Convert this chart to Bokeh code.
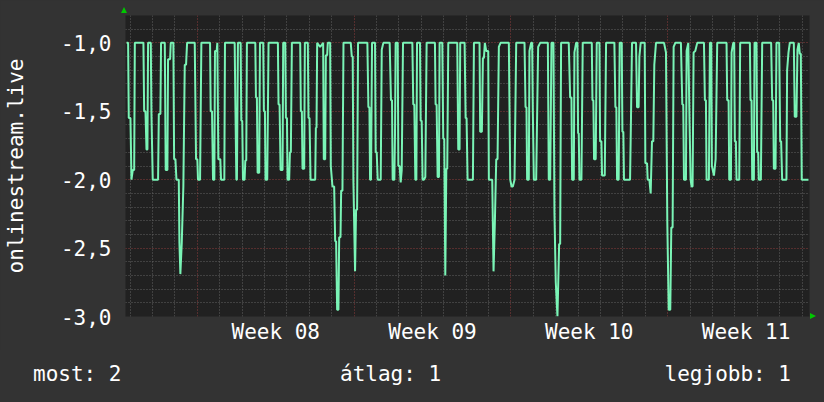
from bokeh.plotting import figure
from bokeh.layouts import column
from bokeh.models import FixedTicker, CustomJSTickFormatter, ColumnDataSource, Div
from bokeh.embed import file_html
from bokeh.resources import INLINE

# ---- data (hours from start of Week 08, value) ----
hours = [
    -75.9, -74.2, -73.5, -71.7, -70.6, -69.2, -67.7, -67.0, -57.8, -57.0, -55.6, -54.5, -53.5, -52.8,
    -49.9, -49.2, -47.8, -42.1, -41.3, -39.6, -38.9, -34.9, -33.9, -32.1, -31.4, -29.2, -28.5, -25.7,
    -24.9, -23.5, -22.4, -19.9, -19.2, -18.2, -16.7, -15.0, -13.5, -12.1, -11.0, -2.8, -1.4, 0.0,
    0.7, 2.9, 4.3, 13.6, 14.3, 15.7, 16.8, 18.2, 18.9, 20.7, 21.4, 22.5, 24.6, 25.4, 28.9, 29.6,
    40.0, 40.7, 41.8, 42.4, 43.5, 46.4, 47.1, 48.1, 48.9, 50.6, 51.4, 52.4, 53.1, 62.1, 62.8, 63.8,
    64.6, 66.3, 67.1, 70.6, 71.3, 72.4, 73.1, 74.9, 76.3, 86.3, 87.0, 88.1, 89.2, 91.3, 92.0, 94.2,
    94.9, 96.0, 96.7, 98.4, 99.2, 100.2, 101.3, 110.2, 110.9, 112.0, 112.7, 114.5, 115.2, 118.4,
    119.1, 120.2, 121.3, 126.3, 127.0, 127.7, 128.4, 131.6, 134.8, 135.5, 137.0, 137.7, 139.1, 139.8,
    142.3, 143.0, 144.8, 146.6, 147.7, 148.7, 149.8, 151.2, 152.0, 153.4, 154.1, 155.5, 156.6, 162.6,
    164.4, 165.5, 166.5, 167.2, 169.0, 170.1, 171.2, 172.2, 182.2, 183.3, 184.4, 185.1, 186.1, 187.2,
    190.4, 191.1, 192.2, 193.3, 196.5, 197.6, 199.3, 206.1, 207.5, 208.6, 209.3, 211.1, 211.8, 212.5,
    214.7, 215.4, 216.8, 217.9, 219.0, 220.4, 230.4, 231.4, 232.5, 233.6, 234.7, 235.4, 238.6, 239.3,
    240.4, 241.4, 242.9, 244.3, 245.7, 254.6, 255.3, 256.4, 257.5, 258.9, 259.6, 262.5, 263.5, 264.6,
    265.7, 266.8, 267.8, 268.9, 278.5, 279.6, 281.0, 281.7,
    286.4, 287.5, 288.5, 289.6, 295.3, 296.4, 302.4, 303.1, 304.9, 306.0, 307.1, 308.1, 309.6, 311.7,
    312.4, 316.0, 317.4, 318.8, 320.3, 321.7, 323.1, 324.9, 333.8, 335.3, 336.7, 338.1, 339.9, 341.7,
    350.6, 351.7, 352.7, 353.4, 355.2, 355.9, 357.7, 358.8, 359.5, 360.6, 363.1, 365.2, 367.4, 375.6,
    376.6, 378.1, 379.5, 381.6, 382.7, 384.1, 385.9, 387.7, 388.8, 389.8, 398.0, 399.5, 400.9, 401.6,
    403.4, 404.1, 405.9,
    407.3, 408.0, 408.7, 409.5, 411.6, 413.0, 422.7, 423.4, 424.4, 425.1, 426.9, 428.0, 430.9, 431.6,
    433.0, 433.7, 436.6, 438.0, 446.9, 448.0, 449.0, 449.8, 451.5, 452.6, 454.8, 455.5, 456.5, 457.2,
    463.7, 464.7, 465.8, 470.1, 471.2, 472.9, 473.7, 475.1, 479.4, 480.1, 481.9, 482.6, 484.4, 485.8,
    487.2, 488.6, 489.7, 491.5, 500.1, 502.2, 503.6, 505.1, 506.8, 507.9, 509.3, 510.4, 512.2, 518.2,
    519.7, 520.7, 521.5, 523.6, 524.3, 526.1, 527.5,
    528.6, 529.7, 530.7, 531.8, 533.6, 535.7, 542.9, 543.9, 545.0, 545.7, 548.2, 549.3, 550.7, 551.4,
    553.6, 555.4, 557.1, 567.1, 567.8, 569.3, 570.0, 571.8, 572.5, 574.3, 575.3, 576.0, 577.1, 577.8,
    580.7, 581.7, 592.1, 592.8, 593.9, 594.6, 596.4, 597.1, 599.2, 599.9, 601.0, 601.7, 603.9, 605.3,
    614.9, 616.0, 617.1, 617.8, 619.6, 620.6, 623.5, 624.6, 625.6, 626.7, 631.3, 632.0, 633.5, 634.9,
    639.2, 640.2, 642.0, 643.1, 644.5, 645.6, 646.7, 647.7, 654.9,
]
values = [
    -1.0, -1.0, -1.55, -1.55, -2.0, -1.93, -1.93, -1.0, -1.0, -1.5, -1.5, -1.78, -1.78, -1.0,
    -1.0, -1.52, -2.0, -2.0, -1.52, -1.52, -1.0, -1.0, -1.93, -1.93, -1.12, -1.12, -1.0, -1.0,
    -1.85, -1.85, -2.0, -2.0, -2.46, -2.69, -2.46, -2.05, -1.16, -1.16, -1.0, -1.0, -1.85, -1.85,
    -2.0, -2.0, -1.0, -1.0, -1.5, -1.5, -2.0, -2.0, -1.06, -1.06, -1.0, -1.85, -1.85, -2.0, -2.0, -1.0,
    -1.0, -1.42, -2.0, -2.0, -1.0, -1.0, -1.57, -1.57, -2.0, -2.0, -1.86, -1.86, -1.0, -1.0, -1.4, -1.4,
    -1.95, -1.95, -1.0, -1.0, -1.5, -1.5, -2.0, -2.0, -1.0, -1.0, -1.45, -1.45, -1.93, -1.93, -1.0, -1.0,
    -1.55, -1.55, -2.0, -2.0, -1.8, -1.8, -1.0, -1.0, -1.5, -1.5, -1.92, -1.92, -1.0, -1.0,
    -1.55, -1.55, -2.0, -2.0, -1.62, -1.62, -1.0, -1.03, -1.0, -1.85, -1.85, -1.09, -1.09, -1.0,
    -1.0, -1.9, -2.05, -2.05, -2.45, -2.45, -2.95, -2.95, -2.42, -2.42, -2.08, -2.08, -1.0, -1.0,
    -1.0, -1.1, -1.1, -2.0, -2.67, -2.22, -2.22, -1.0, -1.0, -1.47, -1.47, -2.0, -2.0, -1.0,
    -1.0, -1.8, -1.8, -2.0, -2.0, -1.05, -1.0, -1.0, -1.42, -1.42, -2.0, -2.0, -1.67, -1.0,
    -1.0, -1.9, -1.9, -2.02, -1.93, -1.0, -1.0, -1.45, -1.45, -2.0, -2.0, -1.0, -1.0, -1.57,
    -1.57, -2.0, -2.0, -1.98, -1.0, -1.0, -1.45, -1.45, -1.98, -1.98, -1.0, -1.0, -1.7, -1.7,
    -2.7, -1.92, -1.92, -1.0, -1.0, -1.78, -1.78, -1.0,
    -1.0, -1.55, -1.55, -2.0, -2.0, -1.0, -1.0, -1.65, -1.65, -1.11, -1.11, -1.0, -1.06, -1.06,
    -2.0, -2.0, -2.67, -2.32, -1.85, -1.85, -1.03, -1.0, -1.0, -2.0, -2.05, -2.05, -2.0, -1.0,
    -1.0, -1.47, -1.47, -2.0, -2.0, -1.06, -1.0, -1.0, -1.5, -2.0, -2.0, -1.03, -1.0, -1.0,
    -2.0, -2.0, -1.0, -1.0, -2.25, -2.75, -3.0, -2.47, -2.47, -1.0, -1.0, -1.4, -1.4, -2.0,
    -2.0, -1.07, -1.0,
    -1.0, -1.66, -1.66, -2.0, -2.0, -1.0, -1.0, -1.42, -1.42, -1.85, -1.85, -1.0, -1.0, -1.72,
    -1.72, -1.97, -1.97, -1.0, -1.0, -1.47, -1.47, -2.0, -2.0, -1.0, -1.0, -1.65, -1.65, -2.0,
    -2.0, -1.55, -1.0, -1.0, -1.47, -1.47, -1.1, -1.0, -1.0, -1.88, -1.88, -2.0, -2.0, -2.1,
    -1.72, -1.72, -1.16, -1.0, -1.0, -1.07, -2.3, -2.95, -2.95, -2.35, -2.35, -1.03, -1.0, -1.0,
    -1.45, -1.45, -2.0, -2.0, -1.06, -1.0, -1.6,
    -2.0, -2.05, -2.05, -1.07, -1.06, -1.0, -1.0, -1.42, -1.42, -2.0, -2.0, -1.0, -1.0, -1.9,
    -1.97, -1.85, -1.0, -1.0, -1.42, -1.42, -2.0, -2.0, -1.07, -1.0, -1.0, -1.72, -1.72, -2.0,
    -2.0, -1.0, -1.0, -1.42, -1.42, -2.0, -2.0, -1.0, -1.0, -1.8, -1.8, -2.0, -2.0, -1.0,
    -1.0, -1.42, -1.42, -1.92, -1.92, -1.0, -1.0, -1.72, -1.72, -2.0, -2.0, -1.2, -1.07, -1.0,
    -1.0, -1.54, -1.54, -1.05, -1.0, -1.08, -1.08, -2.0, -2.0,
]

week_starts = [0, 168, 336, 504]
day_lines = [-72, -48, -24, 24, 48, 72, 96, 120, 144, 192, 216, 240, 264, 288, 312,
             360, 384, 408, 432, 456, 480, 528, 552, 576, 600, 624, 648]
week_centers = [84, 252, 420, 588]
week_labels = ["Week 08", "Week 09", "Week 10", "Week 11"]
y_major = [-3.0, -2.5, -2.0, -1.5, -1.0]
y_minor = [-2.9, -2.8, -2.7, -2.6, -2.4, -2.3, -2.2, -2.1, -1.9, -1.8, -1.7, -1.6,
           -1.4, -1.3, -1.2, -1.1, -0.9, -0.8]
series_name = "onlinestream.live"
legend_names = ["most", "átlag", "legjobb"]
legend_values = [2, 1, 1]

FONT = "DejaVu Sans Mono"
FS = "21px"
BG = "#333333"

p = figure(width=824, height=350, x_range=(-77.0, 656.0), y_range=(-3.0, -0.80),
           output_backend="svg", toolbar_location=None,
           min_border_left=124, min_border_right=15, min_border_top=15, min_border_bottom=34,
           background_fill_color="#212121", border_fill_color=BG,
           outline_line_color=None)

# grids
p.xgrid.ticker = FixedTicker(ticks=week_starts, minor_ticks=day_lines)
p.ygrid.ticker = FixedTicker(ticks=y_major, minor_ticks=y_minor)
for g in (p.xgrid, p.ygrid):
    g.grid_line_color = "#8c3c3c"
    g.grid_line_dash = "1 2"
    g.grid_line_width = 1
    g.minor_grid_line_color = "#636363"
    g.minor_grid_line_dash = "1 2"
    g.minor_grid_line_width = 1

# axes
p.xaxis.ticker = FixedTicker(ticks=week_centers)
p.xaxis.major_label_overrides = {c: l for c, l in zip(week_centers, week_labels)}
p.yaxis.ticker = FixedTicker(ticks=y_major)
p.yaxis.formatter = CustomJSTickFormatter(code="return tick.toFixed(1).replace('.', ',');")
for ax in (p.xaxis[0], p.yaxis[0]):
    ax.axis_line_color = None
    ax.major_tick_line_color = None
    ax.minor_tick_line_color = None
    ax.major_tick_out = 0
    ax.major_tick_in = 0
    ax.minor_tick_out = 0
    ax.minor_tick_in = 0
    ax.major_label_text_color = "white"
    ax.major_label_text_font = FONT
    ax.major_label_text_font_size = FS
p.yaxis.major_label_standoff = 14
p.xaxis.major_label_standoff = 3
p.yaxis.axis_label = series_name
p.yaxis.axis_label_text_font = FONT
p.yaxis.axis_label_text_font_size = FS
p.yaxis.axis_label_text_font_style = "normal"
p.yaxis.axis_label_text_color = "white"
p.yaxis.axis_label_standoff = 30

src = ColumnDataSource(dict(x=hours, y=values))
p.line("x", "y", source=src, line_color="#7af4b6", line_width=2)

# legend row below the graph (+ the two small green axis arrows of the graph)
texts = [f"{n}: {v}" for n, v in zip(legend_names, legend_values)]
span_styles = ["left:33px", "left:340px", "right:33px"]
spans = "".join(
    f'<span style="position:absolute;top:12px;{s};white-space:pre;">{t}</span>'
    for s, t in zip(span_styles, texts))
arrows = (
    '<div style="position:absolute;left:121px;top:-343px;width:0;height:0;'
    'border-left:3px solid transparent;border-right:3px solid transparent;'
    'border-bottom:6px solid #00c800;"></div>'
    '<div style="position:absolute;left:810px;top:-37px;width:0;height:0;'
    'border-top:3px solid transparent;border-bottom:3px solid transparent;'
    'border-left:6px solid #00c800;"></div>'
)
html = (f'<div style="position:relative;width:824px;height:52px;background:{BG};'
        f'font-family:\'{FONT}\';font-size:{FS};line-height:24px;color:white;">{spans}{arrows}</div>')
leg = Div(text=html, width=824, height=52,
          styles={"background-color": BG, "margin": "0", "overflow": "visible", "z-index": "5"})

layout = column(p, leg, spacing=0, styles={"background-color": BG})
open("out.html", "w").write(file_html(layout, INLINE))
